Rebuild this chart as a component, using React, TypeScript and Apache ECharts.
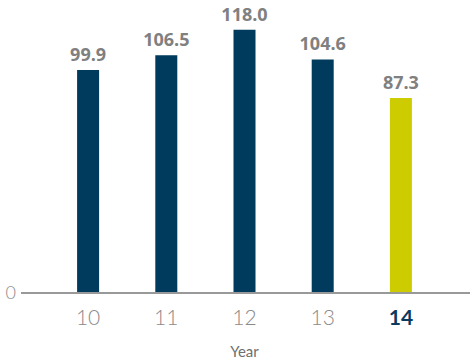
import React, { useEffect, useRef } from "react";
import * as echarts from "echarts";

const years = ["10", "11", "12", "13", "14"];
const values = [99.9, 106.5, 118.0, 104.6, 87.3];
const barColors = ["#003a5d", "#003a5d", "#003a5d", "#003a5d", "#cccc00"];
const highlightIndex = 4;

export default function App() {
  const ref = useRef<HTMLDivElement>(null);
  useEffect(() => {
    if (!ref.current) return;
    const chart = echarts.init(ref.current, null, { renderer: "svg" });
    chart.setOption({
      animation: false,
      grid: { left: 49, right: 30, top: 3, bottom: 70, containLabel: false },
      xAxis: {
        type: "category",
        data: years,
        name: "Year",
        nameLocation: "middle",
        nameGap: 51,
        nameTextStyle: { color: "#6f6f6f", fontSize: 15, fontFamily: "Lato" },
        axisLine: { show: false },
        axisTick: { show: false },
        axisLabel: {
          margin: 14,
          fontSize: 21,
          fontFamily: "Lato",
          fontWeight: 300,
          color: "#8a8a8a",
          formatter: (v: string, i: number) => (i === highlightIndex ? "{b|" + v + "}" : v),
          rich: {
            b: { fontSize: 21, fontFamily: "Lato", fontWeight: "bold", color: "#0b3a5e" },
          },
        },
      },
      yAxis: {
        type: "value",
        min: 0,
        max: 130,
        interval: 130,
        splitLine: { show: false },
        axisLine: { show: false },
        axisTick: { show: false },
        axisLabel: {
          margin: 33,
          fontSize: 18,
          fontFamily: "Lato",
          fontWeight: 300,
          color: "#8a8a8a",
          formatter: (v: number) => (v === 0 ? "0" : ""),
        },
      },
      graphic: [
        {
          type: "line",
          shape: { x1: 21, y1: 293, x2: 470, y2: 293 },
          style: { stroke: "#999999", lineWidth: 2 },
          z: 10,
        },
      ],
      series: [
        {
          type: "bar",
          barWidth: 22,
          data: values.map((v, i) => ({ value: v, itemStyle: { color: barColors[i] } })),
          label: {
            show: true,
            position: "top",
            distance: 7,
            fontSize: 18,
            fontFamily: "Open Sans",
            fontWeight: "bold",
            color: "#808080",
            formatter: (p: any) => Number(p.value).toFixed(1),
          },
        },
      ],
    });
    return () => chart.dispose();
  }, []);
  return <div ref={ref} style={{ width: 470, height: 363, position: "absolute", left: 0, top: 0 }} />;
}
